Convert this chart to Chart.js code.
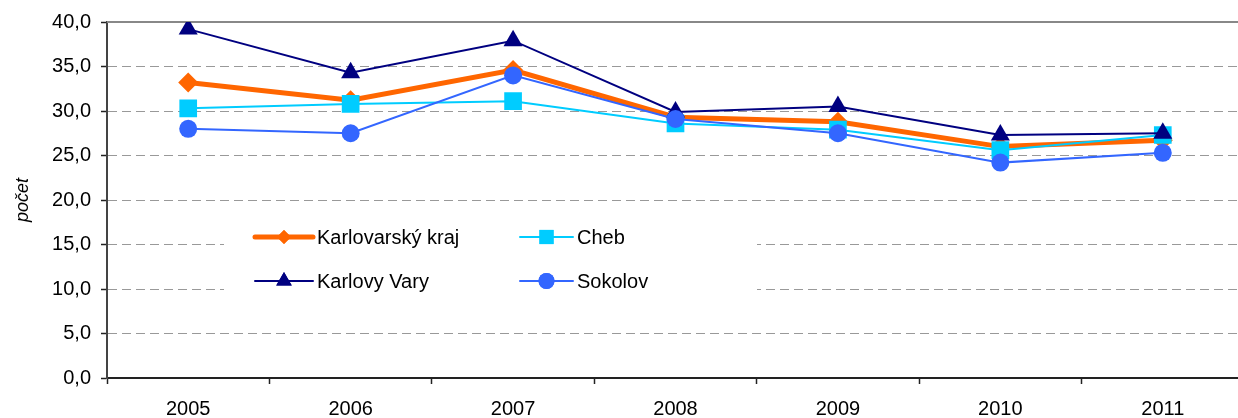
<!DOCTYPE html>
<html>
<head>
<meta charset="utf-8">
<script src="https://cdn.jsdelivr.net/npm/chart.js@4/dist/chart.umd.min.js"></script>
<style>
  html, body { margin:0; padding:0; background:#fff; overflow:hidden; }
  canvas { display:block; }
</style>
</head>
<body>
<canvas id="chart" width="1244" height="418"></canvas>
<script>
const roky = ["2005","2006","2007","2008","2009","2010","2011"];
const krajHodnoty   = [33.2, 31.2, 34.6, 29.3, 28.8, 26.0, 26.7];
const chebHodnoty   = [30.3, 30.8, 31.1, 28.6, 27.9, 25.6, 27.3];
const kvHodnoty     = [39.2, 34.3, 37.9, 29.9, 30.5, 27.3, 27.5];
const sokolovHodnoty = [28.0, 27.5, 34.0, 29.1, 27.5, 24.2, 25.3];
const yTicks = [0,5,10,15,20,25,30,35,40];

const FONT = "'Liberation Sans', Arial, sans-serif";

const serie = [
  { label:"Karlovarský kraj", data:krajHodnoty, color:"#FF6600", width:5, style:"rectRot", r:10, lr:7, order:4 },
  { label:"Cheb", data:chebHodnoty, color:"#00CCFF", width:2, style:"rect", r:12.5, lr:10, order:3 },
  { label:"Karlovy Vary", data:kvHodnoty, color:"#000080", width:2, style:"triangle", r:11, lr:9, order:2 },
  { label:"Sokolov", data:sokolovHodnoty, color:"#3366FF", width:2, style:"circle", r:9, lr:8, order:1 }
];

// legenda uvnitr grafu, 2 sloupce
const legendaPlugin = {
  id:"legenda",
  afterDatasetsDraw(chart){
    const ctx = chart.ctx;
    ctx.save();
    ctx.fillStyle = "#fff";
    ctx.fillRect(224, 208, 533, 110);
    const pos = [[255,237],[520,237],[255,281],[520,281]];
    serie.forEach((s,i)=>{
      const [x,y] = pos[i];
      const w = i%2===0 ? 58 : 53;
      ctx.strokeStyle = s.color;
      ctx.lineWidth = s.width;
      ctx.lineCap = "round";
      ctx.beginPath(); ctx.moveTo(x,y); ctx.lineTo(x+w,y); ctx.stroke();
      ctx.fillStyle = s.color;
      Chart.helpers.drawPoint(ctx, {pointStyle:s.style, radius:s.lr, rotation:0, borderWidth:0}, x+w/2, y);
      ctx.fill();
      ctx.fillStyle = "#000";
      ctx.font = "20px " + FONT;
      ctx.textBaseline = "middle";
      ctx.textAlign = "left";
      ctx.fillText(s.label, x+w+4, y+1);
    });
    ctx.restore();
  },
  beforeDatasetsDraw(chart){
    // horni plna cara na 40
    const y = chart.scales.y.getPixelForValue(40);
    const a = chart.chartArea;
    const ctx = chart.ctx;
    ctx.save();
    ctx.strokeStyle = "#888";
    ctx.lineWidth = 2;
    ctx.beginPath(); ctx.moveTo(a.left, y); ctx.lineTo(a.right, y); ctx.stroke();
    ctx.restore();
  }
};

new Chart(document.getElementById("chart"), {
  type:"line",
  data:{
    labels: roky,
    datasets: serie.map(s=>({
      label:s.label, data:s.data, order:s.order,
      borderColor:s.color, backgroundColor:s.color, borderWidth:s.width,
      pointStyle:s.style, pointRadius:s.r, pointBorderWidth:0,
      pointBackgroundColor:s.color, tension:0, fill:false
    }))
  },
  options:{
    responsive:false, animation:false,
    layout:{ autoPadding:false, padding:{ top:22, left:0, right:0, bottom:0 } },
    plugins:{ legend:{display:false}, tooltip:{enabled:false} },
    scales:{
      x:{
        offset:true,
        grid:{ display:true, drawOnChartArea:false, offset:true, tickLength:6, tickColor:"#222", tickWidth:1.5 },
        border:{ color:"#222", width:2 },
        ticks:{ color:"#000", padding:13, font:{ family:FONT, size:20 }, maxRotation:0 },
        afterFit(s){ s.height = 40; }
      },
      y:{
        min:0, max:40,
        afterBuildTicks(s){ s.ticks = yTicks.map(v=>({value:v})); },
        grid:{ color:"#999", lineWidth:1, tickLength:6, tickColor:"#222", tickWidth:1.5, tickBorderDash:[] },
        border:{ color:"#444", width:2, dash:[9,5] },
        ticks:{ color:"#000", padding:10, font:{ family:FONT, size:20 },
          callback:v=>v.toFixed(1).replace(".",",") },
        title:{ display:true, text:"počet", color:"#000", padding:{top:12,bottom:0},
          font:{ family:FONT, size:18, style:"italic" } },
        afterFit(s){ s.width = 107; }
      }
    }
  },
  plugins:[legendaPlugin]
});
</script>
</body>
</html>
